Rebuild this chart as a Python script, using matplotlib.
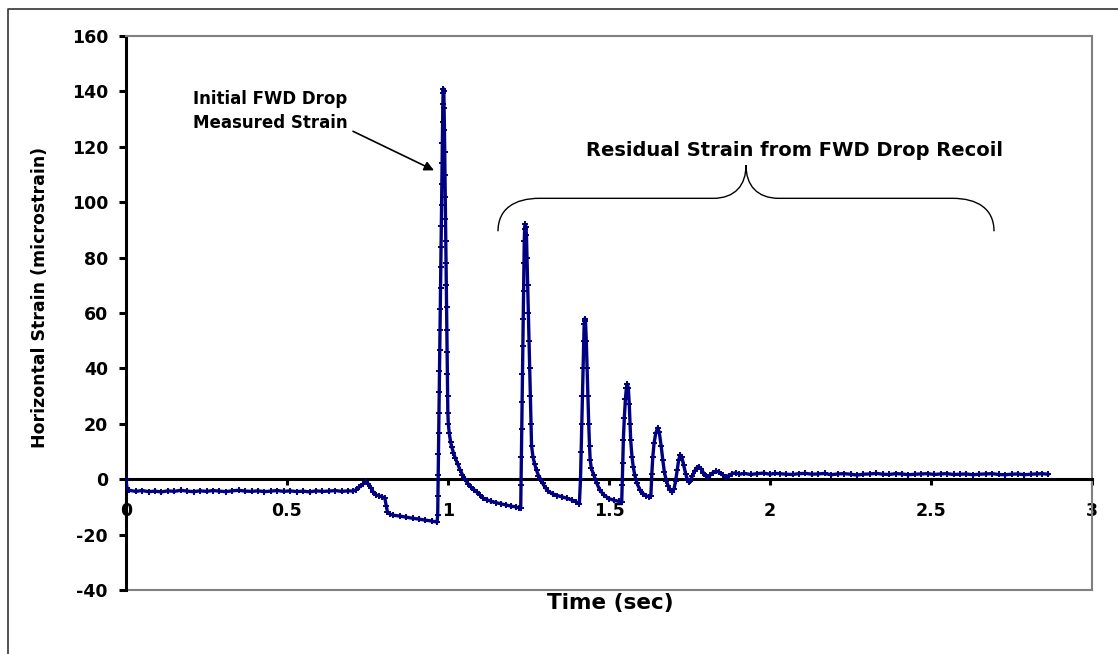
import numpy as np
import matplotlib
matplotlib.use('Agg')
import matplotlib.pyplot as plt
from matplotlib.path import Path
from matplotlib.patches import PathPatch
from matplotlib.lines import Line2D

plt.rcParams['font.family'] = ['DejaVu Sans']
plt.rcParams['font.weight'] = 'bold'
plt.rcParams['axes.unicode_minus'] = False

# strain record, (time in sec, microstrain)
baseline = [(0.000, 0.0), (0.003, -3.2), (0.010, -4.0), (0.030, -4.4), (0.050, -4.1),
            (0.070, -4.5), (0.090, -4.3), (0.110, -4.6), (0.130, -4.2), (0.150, -4.4),
            (0.170, -4.0), (0.190, -4.3), (0.210, -4.5), (0.230, -4.2), (0.250, -4.4),
            (0.270, -4.1), (0.290, -4.3), (0.310, -4.5), (0.330, -4.2), (0.350, -4.0),
            (0.370, -4.3), (0.390, -4.4), (0.410, -4.2), (0.430, -4.5), (0.450, -4.3),
            (0.470, -4.1), (0.490, -4.4), (0.510, -4.2), (0.530, -4.5), (0.550, -4.3),
            (0.570, -4.6), (0.590, -4.2), (0.610, -4.4), (0.630, -4.3), (0.650, -4.1),
            (0.670, -4.4), (0.690, -4.2), (0.705, -4.3)]

seating = [(0.715, -3.8), (0.725, -2.8), (0.735, -1.8), (0.745, -1.0), (0.752, -1.6),
           (0.760, -3.0), (0.768, -4.6), (0.775, -5.6), (0.785, -6.0), (0.795, -6.3),
           (0.804, -6.9), (0.808, -9.5), (0.812, -11.8), (0.820, -12.6), (0.830, -13.0),
           (0.850, -13.3), (0.870, -13.7), (0.890, -14.1), (0.910, -14.4), (0.930, -14.8),
           (0.950, -15.1), (0.966, -15.5)]

main_drop = [(0.9680, -13.0), (0.9688, -6.0), (0.9696, 1.5), (0.9704, 9.0), (0.9712, 16.5),
             (0.9720, 24.0), (0.9728, 31.5), (0.9736, 39.0), (0.9744, 46.5), (0.9752, 54.0),
             (0.9760, 61.5), (0.9768, 69.0), (0.9776, 76.5), (0.9784, 84.0), (0.9792, 91.5),
             (0.9800, 99.0), (0.9808, 106.5), (0.9816, 114.0), (0.9824, 121.5), (0.9832, 129.0),
             (0.9840, 135.5), (0.9848, 139.5), (0.9856, 141.0),
             (0.9870, 140.0), (0.9880, 134.0), (0.9890, 126.0), (0.9898, 118.0), (0.9906, 110.0),
             (0.9914, 102.0), (0.9922, 94.0), (0.9930, 86.0), (0.9938, 78.0), (0.9946, 70.0),
             (0.9954, 62.0), (0.9962, 54.0), (0.9970, 46.0), (0.9978, 38.0), (0.9986, 30.0),
             (0.9995, 24.0), (1.0010, 20.0), (1.0040, 16.5), (1.0080, 13.5), (1.0120, 11.5),
             (1.0170, 9.5), (1.0230, 7.5), (1.0300, 5.5), (1.0370, 3.5), (1.0450, 1.6),
             (1.0530, 0.0), (1.0620, -1.6), (1.0720, -2.9), (1.0820, -3.9), (1.0900, -4.7),
             (1.1000, -5.8), (1.1090, -6.8), (1.1200, -7.4), (1.1350, -8.0), (1.1500, -8.5),
             (1.1650, -8.9), (1.1800, -9.3), (1.1950, -9.7), (1.2100, -10.0), (1.2220, -10.4)]

recoil_1 = [(1.2258, -10.5), (1.2268, -2.0), (1.2279, 8.0), (1.2290, 18.0), (1.2302, 28.0),
            (1.2313, 38.0), (1.2325, 48.0), (1.2336, 58.0), (1.2347, 68.0), (1.2359, 78.0),
            (1.2368, 86.0), (1.2380, 90.5), (1.2400, 92.0), (1.2420, 91.0), (1.2437, 88.0),
            (1.2454, 80.0), (1.2475, 70.0), (1.2495, 60.0), (1.2516, 50.0), (1.2537, 40.0),
            (1.2558, 30.0), (1.2578, 20.0), (1.2595, 12.0), (1.2640, 8.0), (1.2690, 5.5),
            (1.2750, 3.2), (1.2810, 1.3), (1.2870, 0.2), (1.2940, -1.5), (1.3030, -3.2),
            (1.3120, -4.4), (1.3250, -5.3), (1.3400, -5.9), (1.3550, -6.4), (1.3700, -6.9),
            (1.3850, -7.5), (1.3980, -8.2), (1.4080, -8.8)]

recoil_2 = [(1.4115, 0.0), (1.4135, 10.0), (1.4152, 20.0), (1.4172, 30.0), (1.4192, 40.0),
            (1.4212, 50.0), (1.4228, 56.0), (1.4250, 58.0), (1.4270, 57.0), (1.4295, 50.0),
            (1.4320, 40.0), (1.4345, 30.0), (1.4370, 20.0), (1.4395, 12.0), (1.4415, 7.0),
            (1.4450, 4.0), (1.4530, 1.4), (1.4620, -1.5), (1.4720, -4.0), (1.4850, -5.8),
            (1.5000, -7.0), (1.5150, -7.6), (1.5300, -8.0), (1.5395, -8.2)]

recoil_3 = [(1.5410, -2.0), (1.5428, 6.0), (1.5445, 14.0), (1.5475, 22.0), (1.5510, 29.0),
            (1.5540, 33.0), (1.5568, 34.4), (1.5600, 33.0), (1.5630, 27.0), (1.5655, 20.0),
            (1.5674, 14.0), (1.5715, 8.0), (1.5755, 4.3), (1.5800, 1.5), (1.5870, -1.5),
            (1.5960, -3.8), (1.6060, -5.2), (1.6160, -6.0), (1.6250, -6.4), (1.6300, -6.0)]

ringing = [(1.6330, 2.0), (1.6360, 8.0), (1.6400, 13.0), (1.6450, 16.5), (1.6510, 18.5),
           (1.6560, 17.0), (1.6620, 12.0), (1.6670, 7.0), (1.6720, 2.5), (1.6780, -0.5),
           (1.6840, -2.5), (1.6900, -4.0), (1.6960, -4.6), (1.7020, -3.5), (1.7070, -0.5),
           (1.7120, 3.5), (1.7165, 7.0), (1.7210, 8.8), (1.7260, 8.0), (1.7320, 5.0),
           (1.7380, 2.0), (1.7430, 0.0), (1.7480, -1.0), (1.7530, -0.5), (1.7590, 1.3),
           (1.7660, 3.0), (1.7730, 4.2), (1.7790, 4.5), (1.7860, 3.8), (1.7930, 2.4),
           (1.8000, 1.2), (1.8070, 0.8), (1.8140, 1.4), (1.8220, 2.3), (1.8330, 2.9),
           (1.8430, 2.5), (1.8530, 1.5), (1.8630, 0.9), (1.8720, 1.3), (1.8820, 2.0),
           (1.8930, 2.3), (1.9050, 1.8), (1.9200, 2.1), (1.9400, 1.7), (1.9600, 2.0),
           (1.9800, 2.2), (2.0000, 1.8)]

tail = [(2.015, 2.1), (2.03, 2.0), (2.05, 1.8), (2.07, 1.7), (2.09, 2.0), (2.11, 2.1),
        (2.13, 1.8), (2.15, 1.9), (2.17, 2.1), (2.19, 1.6), (2.21, 1.9), (2.23, 2.0),
        (2.25, 1.8), (2.27, 1.5), (2.29, 1.8), (2.31, 1.9), (2.33, 2.1), (2.35, 1.8),
        (2.37, 1.7), (2.39, 2.0), (2.41, 1.9), (2.43, 1.6), (2.45, 1.8), (2.47, 1.9),
        (2.49, 2.0), (2.51, 1.7), (2.53, 1.9), (2.55, 2.0), (2.57, 1.7), (2.59, 1.8),
        (2.61, 1.9), (2.63, 1.6), (2.65, 1.8), (2.67, 1.9), (2.69, 2.0), (2.71, 1.7),
        (2.73, 1.6), (2.75, 1.8), (2.77, 1.9), (2.79, 1.6), (2.81, 1.8), (2.83, 1.9),
        (2.845, 2.0), (2.863, 1.8)]

x_ticks = [0, 0.5, 1, 1.5, 2, 2.5, 3]
x_tick_labels = ['0', '0.5', '1', '1.5', '2', '2.5', '3']
y_ticks = [-40, -20, 0, 20, 40, 60, 80, 100, 120, 140, 160]

record = np.array(baseline + seating + main_drop + recoil_1 + recoil_2 + recoil_3 + ringing + tail)
time_sec = record[:, 0]
strain = record[:, 1]

fig = plt.figure(figsize=(11.18, 6.54), dpi=100)
ax = fig.add_axes([126 / 1118, 64 / 654, 966 / 1118, 554 / 654])

ax.plot(time_sec, strain, color='#000080', lw=2.4, marker='+', ms=5, mew=1.4,
        solid_joinstyle='round', zorder=3)

ax.set_xlim(0, 3)
ax.set_ylim(-40, 160)
ax.set_xticks(x_ticks)
ax.set_xticklabels(x_tick_labels)
ax.set_yticks(y_ticks)

for s in ['top', 'right']:
    ax.spines[s].set_color('#808080')
    ax.spines[s].set_linewidth(1.5)
ax.spines['left'].set_linewidth(2.2)
ax.spines['left'].set_color('black')
ax.spines['bottom'].set_position(('data', 0))
ax.spines['bottom'].set_linewidth(2.2)
ax.spines['bottom'].set_color('black')
ax.axhline(-40, color='#808080', lw=1.5, clip_on=False, zorder=1)

ax.tick_params(axis='y', direction='out', length=5, width=2.2, pad=8, labelsize=12.5)
ax.tick_params(axis='x', direction='out', length=4.5, width=2.2, pad=12, labelsize=12.5)

# annotations
ax.text(0.208, 135.4, 'Initial FWD Drop', fontsize=12, fontweight='bold', va='baseline')
ax.text(0.208, 126.7, 'Measured Strain', fontsize=12, fontweight='bold', va='baseline')
ax.annotate('', xy=(0.9565, 111.5), xytext=(0.705, 125.6),
            arrowprops=dict(arrowstyle='-|>', color='black', lw=1.2,
                            mutation_scale=14, shrinkA=0, shrinkB=0))

ax.text(2.075, 116.6, 'Residual Strain from FWD Drop Recoil', fontsize=14,
        fontweight='bold', ha='center', va='baseline')

brace_pts = [(1.1553, 89.5), (1.1553, 97.5), (1.2050, 101.4), (1.2850, 101.4),
             (1.8230, 101.4),
             (1.8913, 101.4), (1.9255, 106.1), (1.9255, 113.4),
             (1.9255, 106.1), (1.9596, 101.4), (2.0280, 101.4),
             (2.5660, 101.4),
             (2.6460, 101.4), (2.6957, 97.5), (2.6957, 89.5)]
brace_codes = [Path.MOVETO, Path.CURVE4, Path.CURVE4, Path.CURVE4,
               Path.LINETO,
               Path.CURVE4, Path.CURVE4, Path.CURVE4,
               Path.CURVE4, Path.CURVE4, Path.CURVE4,
               Path.LINETO,
               Path.CURVE4, Path.CURVE4, Path.CURVE4]
ax.add_patch(PathPatch(Path(brace_pts, brace_codes), fill=False, ec='black', lw=1.0))

fig.text(40 / 1118, 1 - 297 / 654, 'Horizontal Strain (microstrain)', rotation=90,
         ha='center', va='center', fontsize=12.5, fontweight='bold')
fig.text(610 / 1118, 1 - 609 / 654, 'Time (sec)', ha='center', va='baseline',
         fontsize=15.5, fontweight='bold')

# outer chart border (only top and left edges fall inside the picture)
fig.add_artist(Line2D([8 / 1118, 8 / 1118, 1.0], [0.0, 1 - 9 / 654, 1 - 9 / 654],
                      transform=fig.transFigure, color='#333333', lw=1.2))

fig.savefig('out.png', dpi=100)
